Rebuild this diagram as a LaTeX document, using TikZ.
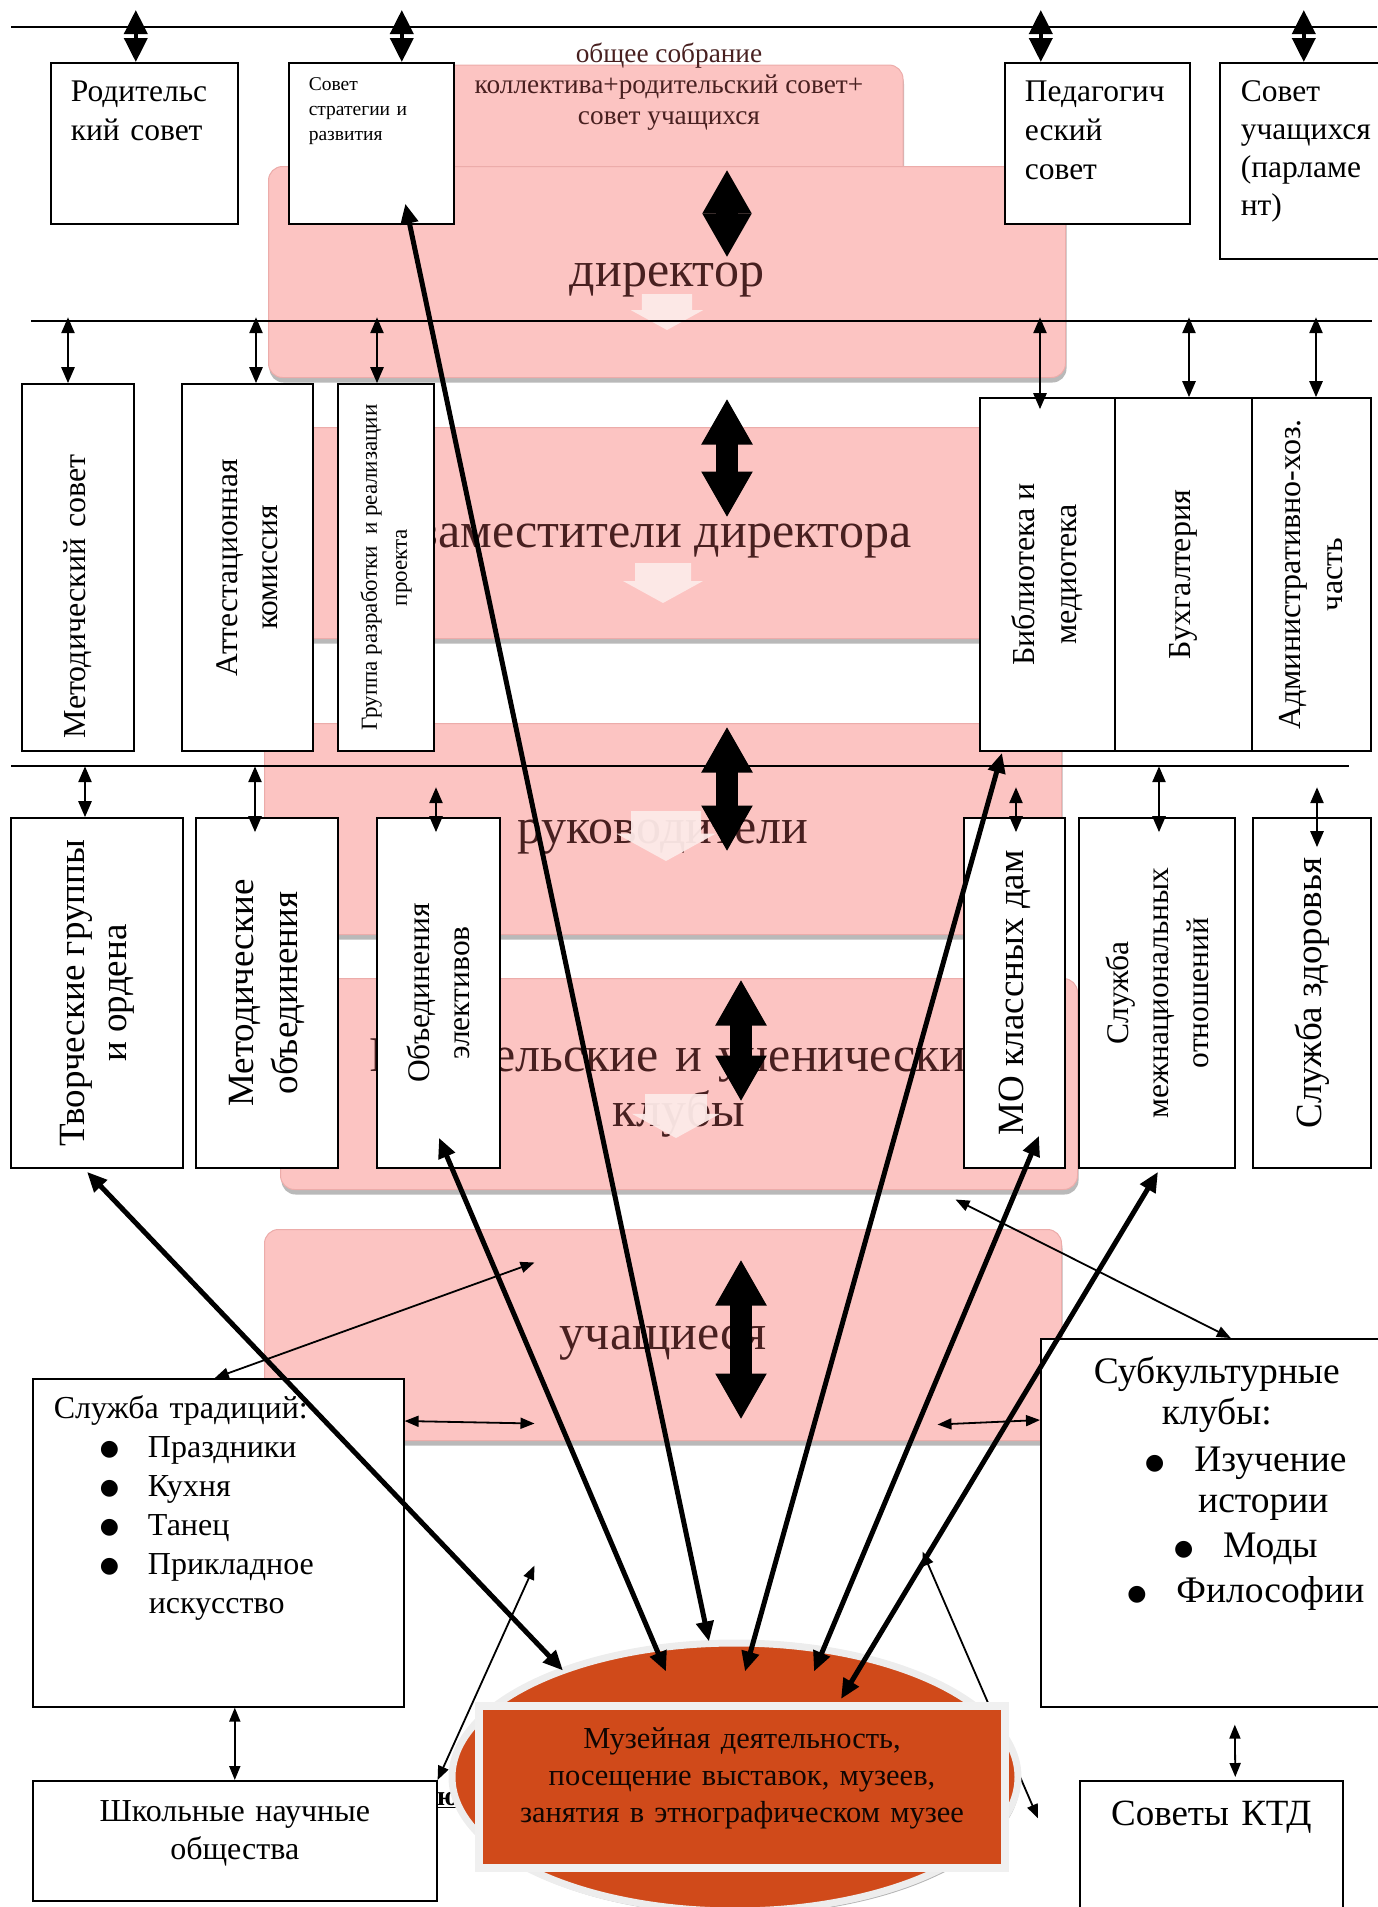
\documentclass[tikz,border=0pt]{standalone}
\usepackage{fontspec}
\setmainfont{Liberation Serif}
\newfontfamily\bulletfont{DejaVu Sans}
\usetikzlibrary{arrows.meta,calc,shadows,shapes.geometric}
\definecolor{bandfill}{RGB}{252,196,194}
\definecolor{bandline}{RGB}{236,172,170}
\definecolor{bandtext}{RGB}{72,32,32}
\definecolor{chevfill}{RGB}{253,234,232}
\definecolor{museum}{RGB}{208,74,26}

\begin{document}
\begin{tikzpicture}[x=1pt,y=-1pt,
    box node/.style={draw,line width=1.6pt,fill=white,anchor=north west,inner ysep=0pt,align=left},
    side node/.style={draw,line width=1.6pt,fill=white,rotate=90,align=center,inner sep=4pt},
    band node/.style={draw=bandline,line width=1pt,fill=bandfill,rounded corners=14pt,
        minimum width=797pt,minimum height=211pt,inner sep=0pt,text=bandtext,
        text height=40pt,text depth=11pt,font=\fontsize{50}{55}\selectfont,
        drop shadow={shadow xshift=1pt,shadow yshift=-5pt,opacity=.5,fill=black!55}},
    chevron/.style={fill=chevfill,opacity=.95},
    top arrow/.style={line width=4pt,arrows={Triangle[width=23pt,length=24pt]-Triangle[width=23pt,length=24pt]}},
    small arrow/.style={line width=2.5pt,arrows={Triangle[width=13pt,length=16pt]-Triangle[width=13pt,length=16pt]}},
    thin arrow/.style={line width=1.8pt,arrows={Triangle[width=11pt,length=14pt]-Triangle[width=11pt,length=14pt]}},
    long arrow/.style={line width=5pt,arrows={Triangle[width=17pt,length=20pt]-Triangle[width=17pt,length=20pt]}},
    big arrow/.style={line width=22pt,arrows={Triangle[width=48pt,length=46pt]-Triangle[width=48pt,length=46pt]}}]

  \useasboundingbox (0,0) rectangle (1377,1907);

  % pink levels
  \node[band node,minimum width=468pt,minimum height=130pt] (sob) at (669,130) {};
  \node[text=bandtext,font=\fontsize{27.3}{31}\selectfont,align=center] (sobt) at (669,87)
    {общее собрание\\коллектива+родительский совет+\\совет учащихся};
  \node[band node] (dir) at (667,272) {директор};
  \node[band node] (zam) at (665,533) {заместители директора};
  \node[band node] (ruk) at (663,829) {руководители};
  \node[band node,text width=700pt,align=center,text depth=66pt] (klub) at (679,1084)
    {Родительские и ученические\\клубы};
  \node[band node] (uch) at (663,1335) {учащиеся};

  \foreach \cx/\cy/\s in {667/312/.9,663/583/1,666/836/1.25,676/1116/1.1}
    \fill[chevron,shift={(\cx,\cy)},scale=\s] (-28,-20) -- ++(56,0) -- ++(0,18) -- ++(12,0)
      -- ++(-40,22) -- ++(-40,-22) -- ++(12,0) -- cycle;

  \path[big arrow,arrows={Triangle[width=46pt,length=44pt]-Triangle[width=46pt,length=44pt]}]
    ($(dir.north)+(60,3.5)$) edge ($(dir.north)+(60,91.5)$);
  \path[big arrow]
    ($(zam.north)+(62,-28.5)$) edge ($(zam.north)+(62,90.5)$)
    ($(ruk.north)+(64,3.5)$) edge ($(ruk.north)+(64,128.5)$)
    ($(klub.north)+(62,1.5)$) edge ($(klub.north)+(62,123.5)$)
    ($(uch.north)+(78,30.5)$) edge ($(uch.north)+(78,190.5)$);

  \draw[line width=1.8pt] (11,27) -- (1377,27);
  \draw[line width=1.8pt] (31,321) -- (1372,321);
  \draw[line width=1.8pt] (11,766) -- (1349,766);

  % councils
  \node[box node,text width=147pt,inner xsep=20pt,text height=39pt,text depth=122pt,
    font=\fontsize{31.5}{39}\selectfont] (1) at (50,62) {Родительс\\кий совет};
  \node[box node,text width=125pt,inner xsep=20pt,text height=28pt,text depth=133pt,
    font=\fontsize{19.5}{25}\selectfont] (2) at (288,62) {Совет\\стратегии и\\развития};
  \node[box node,text width=145pt,inner xsep=20pt,text height=39pt,text depth=122pt,
    font=\fontsize{31.5}{39}\selectfont] (3) at (1004,62) {Педагогич\\еский\\совет};
  \node[box node,text width=150pt,inner xsep=21pt,text height=39pt,text depth=157pt,
    font=\fontsize{31.5}{38}\selectfont] (4) at (1219,62) {Совет\\учащихся\\(парламе\\нт)};

  \node[side node,minimum width=367pt,minimum height=112pt,text width=341pt,inner xsep=13pt,
    align=left,font=\fontsize{32}{40}\selectfont] (5) at (78,567.5) {Методический совет};
  \node[side node,minimum width=367pt,minimum height=131pt,font=\fontsize{31.5}{40}\selectfont]
    (6) at (247.5,567.5) {Аттестационная\\комиссия};
  \node[side node,minimum width=367pt,minimum height=96pt,font=\fontsize{23}{30}\selectfont]
    (7) at (386,567.5) {Группа разработки~ и реализации\\проекта};
  \node[side node,minimum width=353pt,minimum height=135pt,font=\fontsize{32}{42}\selectfont]
    (8) at (1047.5,574.5) {Библиотека и\\медиотека};
  \node[side node,minimum width=353pt,minimum height=137pt,font=\fontsize{32}{42}\selectfont]
    (9) at (1183.5,574.5) {Бухгалтерия};
  \node[side node,minimum width=353pt,minimum height=119pt,font=\fontsize{32}{42}\selectfont]
    (10) at (1311.5,574.5) {Административно-хоз.\\часть};

  \node[side node,minimum width=350pt,minimum height=172pt,font=\fontsize{37}{42}\selectfont]
    (11) at (97,993) {Творческие группы\\и ордена};
  \node[side node,minimum width=350pt,minimum height=142pt,font=\fontsize{37}{44}\selectfont]
    (12) at (267,993) {Методические\\объединения};
  \node[side node,minimum width=350pt,minimum height=123pt,font=\fontsize{31.5}{40}\selectfont]
    (13) at (438.5,993) {Объединения\\элективов};
  \node[side node,minimum width=350pt,minimum height=101pt,font=\fontsize{37}{42}\selectfont]
    (14) at (1014.5,993) {МО классных дам};
  \node[side node,minimum width=350pt,minimum height=156pt,font=\fontsize{31.5}{40}\selectfont]
    (15) at (1157,993) {Служба\\межнациональных\\отношений};
  \node[side node,minimum width=350pt,minimum height=118pt,font=\fontsize{37}{42}\selectfont]
    (16) at (1312,993) {Служба здоровья};

  \node[box node,text width=329pt,inner xsep=21pt,text height=40pt,text depth=288pt,
    font=\fontsize{32}{39}\selectfont] (17) at (32,1378)
    {Служба традиций:\\
     \hspace*{46pt}\raisebox{2pt}{\bulletfont\fontsize{22}{22}\selectfont ●}\hspace{29pt}Праздники\\
     \hspace*{46pt}\raisebox{2pt}{\bulletfont\fontsize{22}{22}\selectfont ●}\hspace{29pt}Кухня\\
     \hspace*{46pt}\raisebox{2pt}{\bulletfont\fontsize{22}{22}\selectfont ●}\hspace{29pt}Танец\\
     \hspace*{46pt}\raisebox{2pt}{\bulletfont\fontsize{22}{22}\selectfont ●}\hspace{29pt}Прикладное\\
     \hspace*{95pt}искусство};
  \node[box node,text width=384pt,inner xsep=10pt,text height=41pt,text depth=79pt,align=center,
    font=\fontsize{32}{38}\selectfont] (18) at (32,1780) {Школьные научные\\общества};
  \node[box node,text width=332pt,inner xsep=10pt,text height=45pt,text depth=323pt,align=center,
    font=\fontsize{37.5}{41}\selectfont] (19) at (1040,1338)
    {Субкультурные\\клубы:\\[6pt]
     \hspace*{58pt}\raisebox{2pt}{\bulletfont\fontsize{22}{22}\selectfont ●}\hspace{30pt}Изучение\\
     \hspace*{58pt}\hspace{35pt}истории\\[4pt]
     \hspace*{58pt}\raisebox{2pt}{\bulletfont\fontsize{22}{22}\selectfont ●}\hspace{30pt}Моды\\[4pt]
     \hspace*{58pt}\raisebox{2pt}{\bulletfont\fontsize{22}{22}\selectfont ●}\hspace{30pt}Философии};
  \node[box node,text width=243pt,inner xsep=10pt,text height=45pt,text depth=90pt,align=center,
    font=\fontsize{37}{41}\selectfont] (20) at (1079,1780) {Советы КТД};

  \node[anchor=west,inner sep=0pt,font=\fontsize{28}{30}\selectfont\bfseries] (frag) at (437,1800)
    {\underline{ю}};

  \path[thin arrow]
    ($(uch.north west)+(270.5,33.5)$) edge ($(17.north)+(-3.5,0)$)
    ($(17.north east)+(0,43)$) edge ($(uch.north west)+(270.5,194.5)$)
    (18.north east) edge ($(uch.south west)+(270.5,124.5)$)
    ($(klub.south east)+(-122.5,9.5)$) edge ($(19.north)+(14,0)$)
    ($(uch.south east)+(-124.5,-16.5)$) edge ($(19.north west)+(0,82)$)
    ($(uch.south east)+(-139.5,110.5)$) edge ($(20.west)+(-41,-30)$)
    (17.south -| 18.north) edge (18.north)
    ($(19.south)+(18,17)$) edge ($(20.north)+(24,-3)$);

  % museum
  \node[ellipse,minimum width=566pt,minimum height=268pt,inner sep=0pt,fill=museum,
    draw=white!93!black,line width=7pt,
    drop shadow={shadow xshift=2pt,shadow yshift=-4pt,opacity=.5,fill=black!60}] (m) at (735,1777) {};
  \node[draw=white!94!black,line width=8pt,fill=museum,text width=500pt,inner xsep=13pt,inner ysep=0pt,
    text height=42pt,text depth=120pt,align=center,text=black!92!museum,
    font=\fontsize{30.5}{37}\selectfont,
    drop shadow={shadow xshift=3pt,shadow yshift=-4pt,opacity=.8,fill=museum!55!black}] (m2) at (742,1787)
    {Музейная деятельность,\\посещение выставок, музеев,\\занятия в этнографическом музее};

  \path[long arrow]
    ($(2.south)+(34,-21)$) edge ($(m.north)+(-26,2)$)
    ($(11.west)+(-10,3)$) edge ($(m.north)+(-172,31)$)
    ($(13.west)+(0.5,-31)$) edge ($(m.north)+(-69,32)$)
    ($(8.west)+(-45.5,1)$) edge ($(m.north)+(10,32)$)
    ($(14.west)+(24.5,-33)$) edge ($(m.north)+(79,32)$)
    ($(15.west)+(1,3)$) edge ($(m2.north)+(99,-3)$);

  \path[top arrow]
    ($(1.north)+(-8.5,-52)$) edge ($(1.north)+(-8.5,0)$)
    ($(2.north)+(30.5,-52)$) edge ($(2.north)+(30.5,0)$)
    ($(3.north)+(-56.5,-52)$) edge ($(3.north)+(-56.5,0)$)
    ($(4.north)+(-12,-52)$) edge ($(4.north)+(-12,0)$);

  \path[small arrow]
    ($(5.east)+(-10,-66)$) edge ($(5.east)+(-10,0)$)
    ($(6.east)+(8.5,-66)$) edge ($(6.east)+(8.5,0)$)
    ($(7.east)+(-9,-66)$) edge ($(7.east)+(-9,0)$)
    ($(8.east)+(-7.5,-80)$) edge ($(8.east)+(-7.5,12)$)
    ($(9.east)+(5.5,-80)$) edge ($(9.east)+(5.5,0)$)
    ($(10.east)+(4.5,-80)$) edge ($(10.east)+(4.5,0)$)
    ($(11.east)+(-12,-51)$) edge ($(11.east)+(-12,0)$)
    ($(12.east)+(-12,-51)$) edge ($(12.east)+(-12,15)$)
    ($(13.east)+(-2.5,-30)$) edge ($(13.east)+(-2.5,15)$)
    ($(14.east)+(1.5,-30)$) edge ($(14.east)+(1.5,15)$)
    ($(15.east)+(2,-51)$) edge ($(15.east)+(2,15)$)
    ($(16.east)+(5,-30)$) edge ($(16.east)+(5,30)$);
\end{tikzpicture}
\end{document}
